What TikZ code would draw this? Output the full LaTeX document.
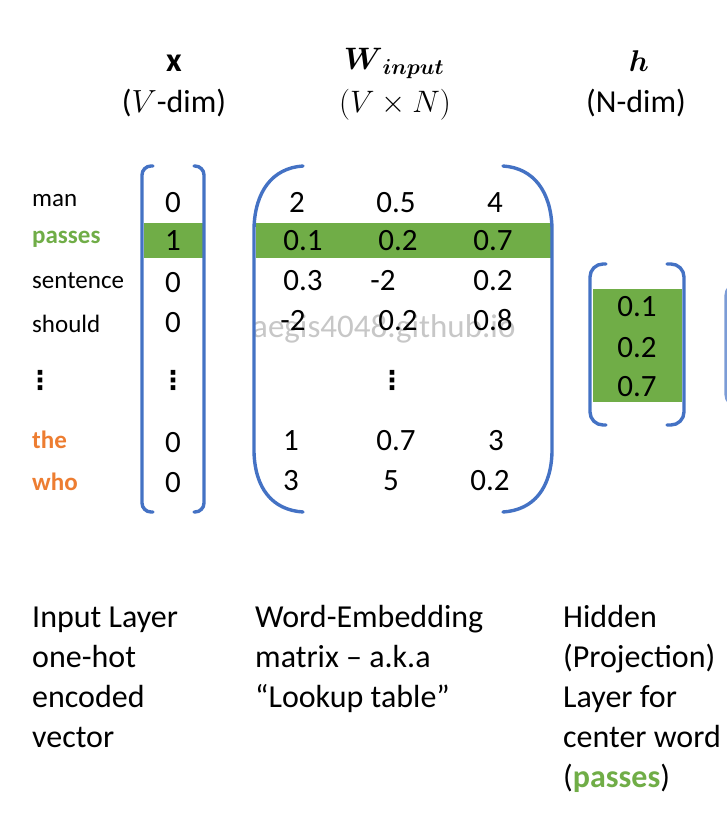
\RequirePackage{fix-cm}
\documentclass[tikz,border=0pt]{standalone}
\usepackage{amsmath,amsbsy}
\usepackage{fontspec}
\setmainfont{Carlito}
\newfontfamily\djv{DejaVu Sans}
\definecolor{brblue}{HTML}{4472C4}
\definecolor{hlgreen}{HTML}{70AD47}
\definecolor{wdorange}{HTML}{ED7D31}
\tikzset{
  br/.style={draw=brblue, line width=3.4pt, line cap=round},
  sqbr/.style={br, rounded corners=9pt},
  hl/.style={fill=hlgreen, draw=none},
  lab/.style={anchor=base west, inner sep=0pt, font=\fontsize{25}{30}\selectfont},
  num/.style={anchor=base, inner sep=0pt, font=\fontsize{31}{37}\selectfont},
  vd/.style={anchor=center, inner sep=0pt, font=\djv\bfseries\fontsize{26}{30}\selectfont},
  hdr/.style={anchor=base, inner sep=0pt, font=\fontsize{32}{38}\selectfont},
  captxt/.style={anchor=base west, inner sep=0pt, align=left, font=\fontsize{32}{40}\selectfont},
  wm/.style={anchor=base west, inner sep=0pt, text=black!22, font=\fontsize{33}{40}\selectfont}
}
\begin{document}
\begin{tikzpicture}[x=1pt,y=-1pt]
\useasboundingbox (0,0) rectangle (726,834);
% highlight bars
\fill[hl] (144,223) rectangle (203,258);
\fill[hl] (256,223) rectangle (551,258);
\fill[hl] (593,289) rectangle (682,402);
% watermark
\node[wm] (wmk) at (252,337) {aegis4048.github.io};
% headers
\node[hdr, font=\fontsize{34}{40}\selectfont] (hx) at (174,72) {$\mathbf{x}$};
\node[hdr] (hxd) at (174,113) {($V$-dim)};
\node[hdr, font=\fontsize{31}{37}\selectfont] (hw) at (394,70) {$\boldsymbol{W}_{\boldsymbol{input}}$};
\node[hdr, font=\fontsize{31}{37}\selectfont] (hwd) at (395,113) {$(V \times N)$};
\node[hdr, font=\fontsize{30}{36}\selectfont] (hh) at (639,72) {$\boldsymbol{h}$};
\node[hdr] (hhd) at (636,113) {(N-dim)};
% word labels
\node[lab] (lman) at (32,207) {man};
\node[lab, text=hlgreen, font=\bfseries\fontsize{25}{30}\selectfont] (lpasses) at (32,243) {passes};
\node[lab] (lsent) at (32,288) {sentence};
\node[lab] (lshould) at (32,332) {should};
\node[vd] (ldots) at (40,380) {⋮};
\node[lab, text=wdorange, font=\bfseries\fontsize{25}{30}\selectfont] (lthe) at (32,448) {the};
\node[lab, text=wdorange, font=\bfseries\fontsize{25}{30}\selectfont] (lwho) at (32,490) {who};
% x vector
\node[num] (x1) at (173,212) {0};
\node[num] (x2) at (173,251) {1};
\node[num] (x3) at (173,292) {0};
\node[num] (x4) at (173,332) {0};
\node[vd] (xd) at (173,380) {⋮};
\node[num] (x6) at (173,452) {0};
\node[num] (x7) at (173,492) {0};
\draw[sqbr] (153,166) -- (142,166) -- (142,512) -- (153,512);
\draw[sqbr] (194,166) -- (204,166) -- (204,512) -- (194,512);
% W matrix
\node[num] (w11) at (297,212) {2};
\node[num] (w12) at (396,212) {0.5};
\node[num] (w13) at (495,212) {4};
\node[num] (w21) at (303,250) {0.1};
\node[num] (w22) at (398,250) {0.2};
\node[num] (w23) at (493,250) {0.7};
\node[num] (w31) at (303,290) {0.3};
\node[num] (w32) at (383,290) {-2};
\node[num] (w33) at (493,290) {0.2};
\node[num] (w41) at (293,330) {-2};
\node[num] (w42) at (398,330) {0.2};
\node[num] (w43) at (493,330) {0.8};
\node[vd] (wd) at (392,380) {⋮};
\node[num] (w61) at (291,450) {1};
\node[num] (w62) at (396,450) {0.7};
\node[num] (w63) at (496,450) {3};
\node[num] (w71) at (291,490) {3};
\node[num] (w72) at (391,490) {5};
\node[num] (w73) at (490,490) {0.2};
\draw[br] (303,166) .. controls (272,168) and (255,192) .. (254,228) -- (254,452) .. controls (255,488) and (272,510) .. (303,512);
\draw[br] (503,166) .. controls (534,168) and (551,192) .. (552,228) -- (552,452) .. controls (551,488) and (534,510) .. (503,512);
% h vector
\node[num] (h1) at (637,316) {0.1};
\node[num] (h2) at (637,357) {0.2};
\node[num] (h3) at (637,396) {0.7};
\draw[sqbr, rounded corners=13pt] (606,264) -- (590,264) -- (590,425) -- (606,425);
\draw[sqbr, rounded corners=13pt] (667,264) -- (684,264) -- (684,425) -- (667,425);
% partial next bracket at the right edge
\draw[sqbr, rounded corners=13pt, draw=brblue!70] (742,283) -- (726,283) -- (726,407) -- (742,407);
% captions (anchored on the baseline of the last line)
\node[captxt] (c1) at (32,747) {Input Layer\\one-hot\\encoded\\vector};
\node[captxt] (c2) at (255,707) {Word-Embedding\\matrix – a.k.a\\“Lookup table”};
\node[captxt] (c3) at (563,787) {Hidden\\(Projection)\\Layer for\\center word\\({\color{hlgreen}\bfseries passes})};
\end{tikzpicture}
\end{document}
